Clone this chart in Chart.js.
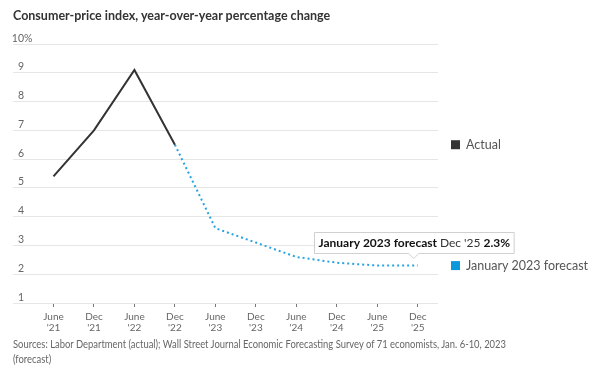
<!DOCTYPE html>
<html>
<head>
<meta charset="utf-8">
<script src="https://cdn.jsdelivr.net/npm/chart.js@4.4.1/dist/chart.umd.min.js"></script>
<style>
  html, body { margin: 0; padding: 0; background: #fff; }
  #wrap { position: relative; width: 594px; height: 375px; overflow: hidden; font-family: Lato, "Open Sans", sans-serif; }
  #title { position: absolute; left: 13px; top: 8px; font-size: 12.5px; font-weight: bold; color: #333; white-space: nowrap; }
  #source { position: absolute; left: 13px; top: 336px; font-size: 12px; line-height: 15px; color: #666; white-space: nowrap; transform-origin: 0 0; }
  canvas { position: absolute; left: 0; top: 0; }
</style>
</head>
<body>
<div id="wrap">
  <canvas id="c" width="594" height="375"></canvas>
  <div id="title">Consumer-price index, year-over-year percentage change</div>
  <div id="source"><span id="src1">Sources: Labor Department (actual); Wall Street Journal Economic Forecasting Survey of 71 economists, Jan. 6-10, 2023</span><br><span>(forecast)</span></div>
</div>
<script>
// ---- data ----
const categories = [["June","'21"],["Dec","'21"],["June","'22"],["Dec","'22"],["June","'23"],["Dec","'23"],["June","'24"],["Dec","'24"],["June","'25"],["Dec","'25"]];
const actualValues   = [5.4, 7.0, 9.1, 6.5, null, null, null, null, null, null];
const forecastValues = [null, null, null, 6.5, 3.6, 3.1, 2.6, 2.4, 2.3, 2.3];
const yTickValues = [1, 2, 3, 4, 5, 6, 7, 8, 9, 10];
const yTickLabels = ["1", "2", "3", "4", "5", "6", "7", "8", "9", "10"];
const seriesNames = ["Actual", "January 2023 forecast"];
const tooltipLabel = { series: "January 2023 forecast", date: "Dec '25", value: "2.3%" };

const FONT = 'Lato, "Open Sans", sans-serif';
const actualColor = '#333333';
const forecastColor = '#27a3e3';
const forecastLegendColor = '#0d97dc';

// condense source note to the reference's line width
(function () {
  const s1 = document.getElementById('src1');
  const w = s1.getBoundingClientRect().width;
  if (w > 0) document.getElementById('source').style.transform = 'scaleX(' + (493 / w) + ')';
})();

function toXY(arr) {
  return arr.map((v, i) => ({ x: i, y: v }));
}

const overlay = {
  id: 'overlay',
  afterDatasetsDraw(chart) {
    const ctx = chart.ctx;
    const xs = chart.scales.x, ys = chart.scales.y;
    ctx.save();
    ctx.font = '10.5px ' + FONT;
    ctx.fillStyle = '#666';
    ctx.textBaseline = 'alphabetic';
    yTickValues.forEach((v, i) => {
      const y = ys.getPixelForValue(v);
      ctx.textAlign = 'right';
      ctx.fillText(yTickLabels[i], 24, y - 2.5);
      if (v === 10) {
        ctx.textAlign = 'left';
        ctx.fillText('%', 24, y - 2.5);
      }
    });

    const ends = [
      { name: seriesNames[0], color: actualColor, v: actualValues[3] },
      { name: seriesNames[1], color: forecastLegendColor, v: forecastValues[forecastValues.length - 1] }
    ];
    ctx.font = '12.5px ' + FONT;
    ctx.textAlign = 'left';
    ctx.textBaseline = 'middle';
    ends.forEach(e => {
      const y = ys.getPixelForValue(e.v);
      ctx.fillStyle = e.color;
      ctx.fillRect(451, y - 4.5, 9, 9);
      ctx.fillStyle = '#555';
      ctx.fillText(e.name, 466, y);
    });

    const lastIdx = forecastValues.length - 1;
    const px = xs.getPixelForValue(lastIdx) - 4;
    const py = ys.getPixelForValue(forecastValues[lastIdx]);
    ctx.font = 'bold 12px ' + FONT;
    const w1 = ctx.measureText(tooltipLabel.series + ' ').width;
    const w3 = ctx.measureText(tooltipLabel.value).width;
    ctx.font = '12px ' + FONT;
    const w2 = ctx.measureText(tooltipLabel.date + ' ').width;
    const pad = 4;
    const bw = w1 + w2 + w3 + pad * 2;
    const bh = 21;
    const bx = Math.round(px - bw / 2) + 0.5;
    const by = Math.round(py - 13 - bh) + 0.5;
    ctx.beginPath();
    ctx.moveTo(bx, by);
    ctx.lineTo(bx + bw, by);
    ctx.lineTo(bx + bw, by + bh);
    ctx.lineTo(px + 5, by + bh);
    ctx.lineTo(px, by + bh + 5);
    ctx.lineTo(px - 5, by + bh);
    ctx.lineTo(bx, by + bh);
    ctx.closePath();
    ctx.fillStyle = 'rgba(255,255,255,0.95)';
    ctx.fill();
    ctx.strokeStyle = '#d0d0d0';
    ctx.lineWidth = 1;
    ctx.stroke();
    ctx.textBaseline = 'middle';
    ctx.textAlign = 'left';
    const ty = by + bh / 2 + 0.5;
    ctx.fillStyle = '#111';
    ctx.font = 'bold 12px ' + FONT;
    ctx.fillText(tooltipLabel.series, bx + pad, ty);
    ctx.font = '12px ' + FONT;
    ctx.fillStyle = '#333';
    ctx.fillText(tooltipLabel.date, bx + pad + w1, ty);
    ctx.font = 'bold 12px ' + FONT;
    ctx.fillStyle = '#111';
    ctx.fillText(tooltipLabel.value, bx + pad + w1 + w2, ty);
    ctx.restore();
  }
};

new Chart(document.getElementById('c'), {
  type: 'line',
  data: {
    datasets: [
      {
        label: seriesNames[0],
        data: toXY(actualValues),
        borderColor: actualColor,
        borderWidth: 2,
        pointRadius: 0,
        tension: 0,
        spanGaps: false
      },
      {
        label: seriesNames[1],
        data: toXY(forecastValues),
        borderColor: forecastColor,
        borderWidth: 2,
        borderDash: [2, 3],
        pointRadius: 0,
        tension: 0,
        spanGaps: false
      }
    ]
  },
  options: {
    responsive: false,
    animation: false,
    events: [],
    layout: { padding: { left: 13, right: 156, top: 44, bottom: 32 } },
    plugins: { legend: { display: false }, tooltip: { enabled: false }, title: { display: false } },
    scales: {
      x: {
        type: 'linear',
        min: -1,
        max: 9.5,
        afterBuildTicks(scale) {
          scale.ticks = categories.map((c, i) => ({ value: i }));
        },
        afterFit(scale) { scale.height = 40; },
        border: { display: false },
        grid: { drawOnChartArea: false, drawTicks: true, tickLength: 4, color: '#777', lineWidth: 1 },
        ticks: {
          autoSkip: false,
          maxRotation: 0,
          padding: 4,
          color: '#666',
          font: { family: FONT, size: 10, lineHeight: 1.1 },
          callback: (v) => categories[v] || ''
        }
      },
      y: {
        min: 1,
        max: 10,
        afterBuildTicks(scale) {
          scale.ticks = yTickValues.map(v => ({ value: v }));
        },
        afterFit(scale) { scale.width = 0; },
        border: { display: false },
        grid: { color: '#e6e6e6', lineWidth: 1, drawTicks: false },
        ticks: { display: false }
      }
    }
  },
  plugins: [overlay]
});
</script>
</body>
</html>
